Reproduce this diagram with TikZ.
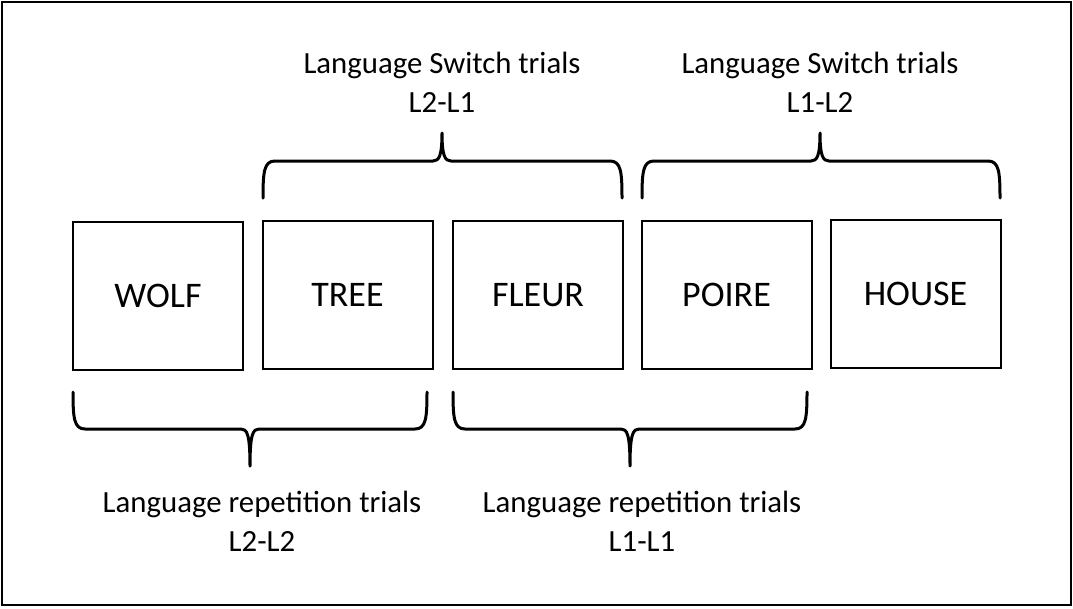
\documentclass[tikz,border=0pt]{standalone}
\usepackage{fontspec}
\setmainfont{Carlito}
\tikzset{
  word/.style={draw, line width=2pt, minimum width=170pt, minimum height=148pt, inner sep=0pt, font=\fontsize{36}{43}\selectfont},
  trial/.style={anchor=base, inner sep=0pt, font=\fontsize{30.8}{37}\selectfont},
  brace/.style={line width=3pt, line cap=round, line join=round}
}
\begin{document}
\begin{tikzpicture}[x=1pt, y=-1pt]
\useasboundingbox (0,0) rectangle (1073,608);
\draw[line width=2pt] (1.5,2) rectangle (1071,604.5);
% trial words
\node[word] (wolf) at (158,295.5) {WOLF};
\node[word] (tree) at (347.5,295) {TREE};
\node[word] (fleur) at (538,295) {FLEUR};
\node[word] (poire) at (726.5,294.5) {POIRE};
\node[word] (house) at (915.5,293.5) {HOUSE};
% switch braces (above)
\foreach \l/\r/\c in {263/622/442, 642/1000/820}
  \draw[brace] (\l,198) .. controls (\l,172) and (\l+1,161) .. (\l+12,161) -- (\c-9,161)
    .. controls (\c-3,161) and (\c,156) .. (\c,133)
    .. controls (\c,156) and (\c+3,161) .. (\c+9,161) -- (\r-12,161)
    .. controls (\r-1,161) and (\r,172) .. (\r,198);
% repetition braces (below)
\foreach \l/\r/\c in {73/427/250, 453/807/630}
  \draw[brace] (\l,392) .. controls (\l,418) and (\l+1,429) .. (\l+12,429) -- (\c-9,429)
    .. controls (\c-3,429) and (\c,434) .. (\c,466)
    .. controls (\c,434) and (\c+3,429) .. (\c+9,429) -- (\r-12,429)
    .. controls (\r-1,429) and (\r,418) .. (\r,392);
% labels
\node[trial] (sw21) at (442,73) {Language Switch trials};
\node[trial] (sw21pair) at (442,112) {L2-L1};
\node[trial] (sw12) at (820,73) {Language Switch trials};
\node[trial] (sw12pair) at (820,112) {L1-L2};
\node[trial] (rep22) at (262,512) {Language repetition trials};
\node[trial] (rep22pair) at (262,551) {L2-L2};
\node[trial] (rep11) at (642,512) {Language repetition trials};
\node[trial] (rep11pair) at (642,551) {L1-L1};
\end{tikzpicture}
\end{document}
